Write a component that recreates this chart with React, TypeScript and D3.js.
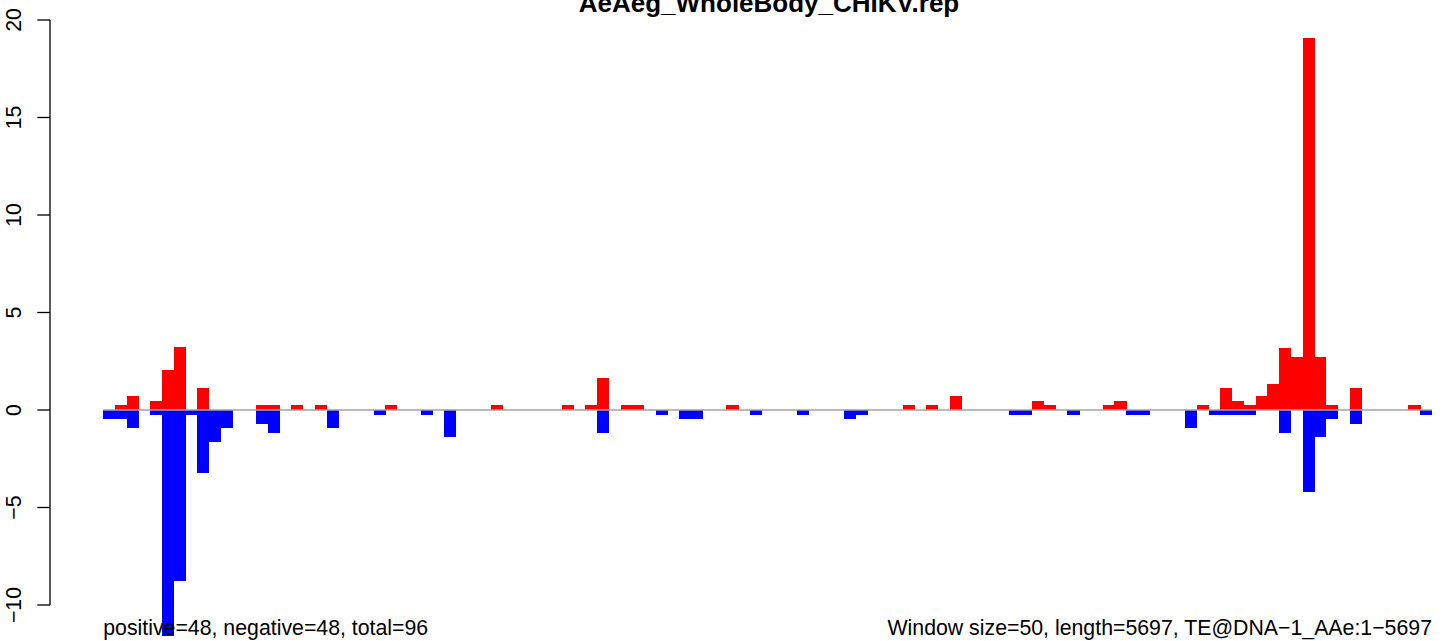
import React from "react";
import * as d3 from "d3";

const title = "AeAeg_WholeBody_CHIKV.rep";
const leftNote = "positive=48, negative=48, total=96";
const rightNote = "Window size=50, length=5697, TE@DNA\u22121_AAe:1\u22125697";
const yTicks = [-10, -5, 0, 5, 10, 15, 20];

// sense (red) values per 50-nt window, 113 windows
const positive = [
  0, 0.24, 0.7, 0, 0.45, 2.07, 3.21, 0, 1.15, 0,
  0, 0, 0, 0.24, 0.24, 0, 0.24, 0, 0.24, 0,
  0, 0, 0, 0, 0.24, 0, 0, 0, 0, 0,
  0, 0, 0, 0.24, 0, 0, 0, 0, 0, 0.24,
  0, 0.24, 1.64, 0, 0.24, 0.24, 0, 0, 0, 0,
  0, 0, 0, 0.24, 0, 0, 0, 0, 0, 0,
  0, 0, 0, 0, 0, 0, 0, 0, 0.24, 0,
  0.24, 0, 0.7, 0, 0, 0, 0, 0, 0, 0.45,
  0.24, 0, 0, 0, 0, 0.24, 0.45, 0, 0, 0,
  0, 0, 0, 0.24, 0, 1.15, 0.45, 0.24, 0.7, 1.35,
  3.2, 2.74, 19.1, 2.74, 0.24, 0, 1.15, 0, 0, 0,
  0, 0.24, 0,
];

// antisense (blue) magnitudes per window
const negative = [
  0.48, 0.48, 0.94, 0, 0.24, 11.57, 8.79, 0.24, 3.25, 1.66,
  0.94, 0, 0, 0.7, 1.2, 0, 0, 0, 0, 0.94,
  0, 0, 0, 0.24, 0, 0, 0, 0.24, 0, 1.37,
  0, 0, 0, 0, 0, 0, 0, 0, 0, 0,
  0, 0, 1.16, 0, 0, 0, 0, 0.24, 0, 0.45,
  0.45, 0, 0, 0, 0, 0.24, 0, 0, 0, 0.24,
  0, 0, 0, 0.45, 0.24, 0, 0, 0, 0, 0,
  0, 0, 0, 0, 0, 0, 0, 0.24, 0.24, 0,
  0, 0, 0.24, 0, 0, 0, 0, 0.24, 0.24, 0,
  0, 0, 0.94, 0, 0.24, 0.24, 0.24, 0.24, 0, 0,
  1.2, 0, 4.19, 1.4, 0.48, 0, 0.7, 0, 0, 0,
  0, 0, 0.24,
];

const W = 1444;
const H = 641;
const FONT = "'Liberation Sans', Arial, Helvetica, sans-serif";

export default function App() {
  const n = positive.length;
  const x = d3.scaleLinear().domain([0, n]).range([103.2, 1432]);
  const y = d3.scaleLinear().domain([0, 20]).range([410, 20]);
  const bw = x(1) - x(0);

  return (
    <svg
      width={W}
      height={H}
      style={{ position: "absolute", left: 0, top: 0, background: "#fff" }}
      fontFamily={FONT}
    >
      <g shapeRendering="crispEdges">
        {positive.map((v, i) =>
          v > 0 ? (
            <rect key={"p" + i} x={x(i)} width={bw + 0.3} y={y(v)} height={y(0) - y(v)} fill="#ff0000" />
          ) : null
        )}
        {negative.map((v, i) =>
          v > 0 ? (
            <rect key={"n" + i} x={x(i)} width={bw + 0.3} y={y(0)} height={y(-v) - y(0)} fill="#0000ff" />
          ) : null
        )}
      </g>
      <line x1={x(0)} x2={x(n)} y1={y(0)} y2={y(0)} stroke="#a3a3a3" strokeWidth={1.6} />
      <g>
        <line x1={50} x2={50} y1={y(-10)} y2={y(20)} stroke="#000" strokeWidth={1.3} />
        {yTicks.map((t) => (
          <g key={t}>
            <line x1={37.3} x2={50} y1={y(t)} y2={y(t)} stroke="#000" strokeWidth={1.3} />
            <text
              transform={`translate(20.5,${y(t)}) rotate(-90)`}
              textAnchor="middle"
              fontSize={21.3}
              fill="#000"
            >
              {t < 0 ? "\u2212" + Math.abs(t) : String(t)}
            </text>
          </g>
        ))}
      </g>
      <text x={769} y={12} textAnchor="middle" fontSize={26} fontWeight="bold" fill="#000">
        {title}
      </text>
      <text x={x(0)} y={635} fontSize={21.3} fill="#000">
        {leftNote}
      </text>
      <text x={x(n)} y={635} textAnchor="end" fontSize={21.3} fill="#000">
        {rightNote}
      </text>
    </svg>
  );
}
